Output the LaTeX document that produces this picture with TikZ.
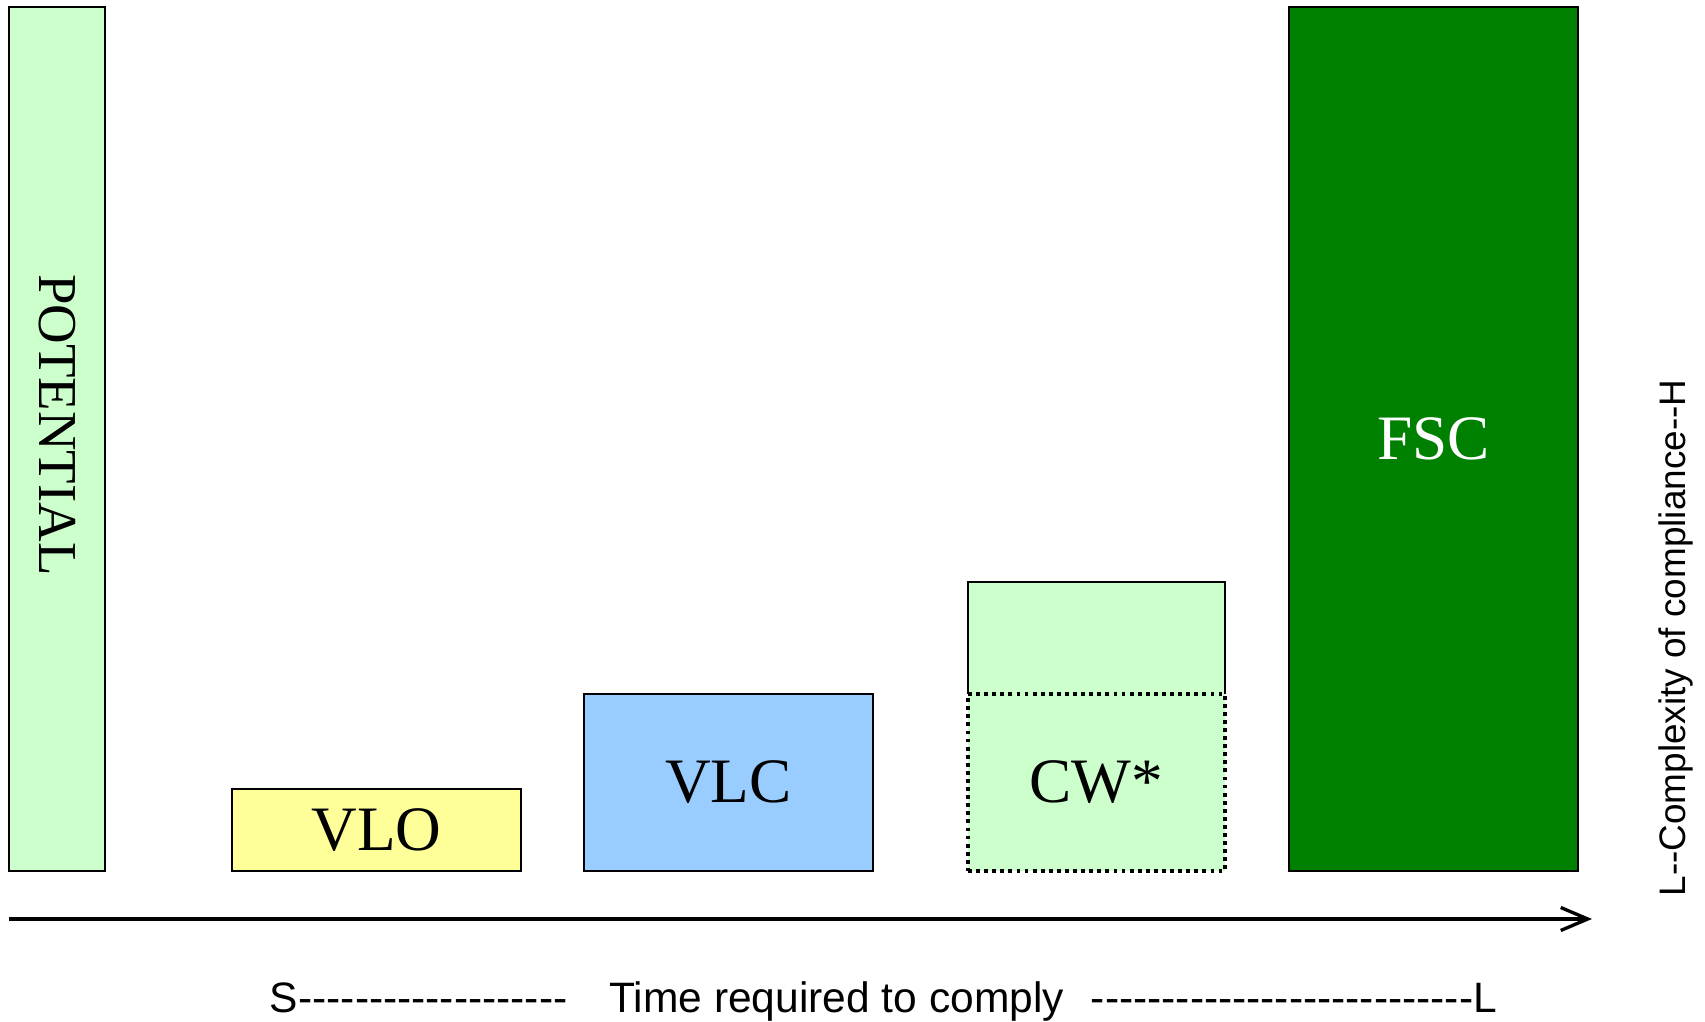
\documentclass[tikz,border=0pt]{standalone}
\usepackage{fontspec}
\setmainfont{Liberation Serif}
\setsansfont{Liberation Sans}[Ligatures=TeXOff]
\usetikzlibrary{arrows.meta}
\definecolor{palegreen}{HTML}{CCFFCC}
\definecolor{paleyellow}{HTML}{FFFF99}
\definecolor{paleblue}{HTML}{99CCFF}
\definecolor{darkgreen}{HTML}{008000}
\begin{document}
\begin{tikzpicture}[
    bar/.style={draw=black, line width=0.6pt, anchor=south west, inner sep=0pt, outer sep=0pt,
                font=\fontsize{18}{20}\selectfont},
    axislabel/.style={anchor=base, inner sep=0pt, font=\sffamily}
  ]
  \useasboundingbox (0,0) rectangle (17.05,10.22);
  \node[bar, fill=palegreen, minimum width=0.96cm, minimum height=8.64cm] (pot) at (0.09,1.51) {};
  \node[rotate=-90, font=\fontsize{15.6}{18}\selectfont] (potlabel) at (0.57,5.97) {POTENTIAL};
  \node[bar, fill=paleyellow, minimum width=2.89cm, minimum height=0.82cm] (vlo) at (2.32,1.51) {VLO};
  \node[bar, fill=paleblue, minimum width=2.89cm, minimum height=1.77cm] (vlc) at (5.84,1.51) {VLC};
  \node[bar, draw=none, fill=palegreen, minimum width=2.57cm, minimum height=1.12cm] (cwtop) at (9.68,3.28) {};
  \draw[line width=0.6pt] (cwtop.south west) |- (cwtop.north east) -- (cwtop.south east);
  \node[bar, fill=palegreen, line width=1.1pt, dash pattern=on 1.1pt off 1.2pt,
        minimum width=2.57cm, minimum height=1.77cm] (cw) at (9.68,1.51) {CW*};
  \node[bar, fill=darkgreen, text=white, minimum width=2.89cm, minimum height=8.64cm] (fsc) at (12.89,1.51) {FSC};

  \coordinate (t0) at (0.09,1.03);
  \coordinate (t1) at (15.92,1.03);
  \draw[line width=0.95pt, -{Straight Barb[length=2.7mm,width=2.3mm,line width=0.95pt]}] (t0) -- (t1);

  \node[axislabel, font=\sffamily\fontsize{12.1}{14}\selectfont] (timelabel) at (8.835,0.09)
    {S-------------------\hspace{0.42cm}Time required to comply\hspace{0.27cm}---------------------------L};
  \node[axislabel, rotate=90, font=\sffamily\fontsize{10.5}{12}\selectfont] (complabel) at (16.85,3.84)
    {L--Complexity of compliance--H};
\end{tikzpicture}
\end{document}
